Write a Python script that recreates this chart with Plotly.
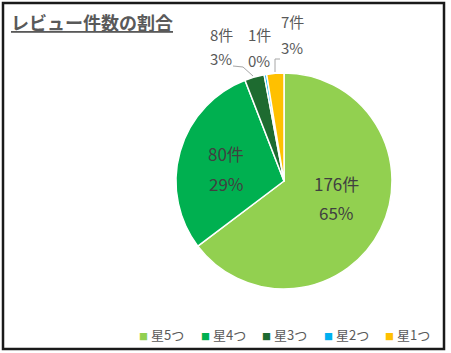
import plotly.graph_objects as go

categories = ["星5つ", "星4つ", "星3つ", "星2つ", "星1つ"]
counts = [176, 80, 8, 1, 7]
colors = ["#92d050", "#00b050", "#1e6b30", "#00b0f0", "#ffc000"]
title_text = "レビュー件数の割合"

W, H = 451, 353
FONT = "Noto Sans CJK JP"

# label block positions (pixels, line1 center / line2 center) and font sizes
label_layout = [
    dict(x=336, y1=183, y2=212, size=17, color="#404040"),
    dict(x=226, y1=153, y2=183, size=17, color="#404040"),
    dict(x=221, y1=34, y2=59, size=15, color="#595959"),
    dict(x=259, y1=35, y2=60, size=15, color="#595959"),
    dict(x=292, y1=22, y2=47, size=15, color="#595959"),
]

def px(x):
    return x / W

def py(y):
    return 1 - y / H

fig = go.Figure()
fig.add_trace(go.Pie(
    labels=categories,
    values=counts,
    sort=False,
    direction="clockwise",
    rotation=0,
    marker=dict(colors=colors, line=dict(color="white", width=1.5)),
    textinfo="none",
    domain=dict(x=[px(176), px(392)], y=[py(289), py(73)]),
    showlegend=False,
    hoverinfo="label+value+percent",
))

total = sum(counts)
annotations = []
for c, lay in zip(counts, label_layout):
    for txt, yy in ((f"{c}件", lay["y1"]), (f"{round(100 * c / total)}%", lay["y2"])):
        annotations.append(dict(
            x=px(lay["x"]), y=py(yy), xref="paper", yref="paper",
            xanchor="center", yanchor="middle", text=txt, showarrow=False,
            font=dict(size=lay["size"], color=lay["color"], family=FONT),
        ))

# custom legend built from categories/colors
leg_x0 = 137
leg_step = 61.5
for i, (cat, col) in enumerate(zip(categories, colors)):
    annotations.append(dict(
        x=px(leg_x0 + i * leg_step), y=py(334),
        xref="paper", yref="paper", xanchor="left", yanchor="middle",
        text=f"<span style='color:{col};font-size:9px'>■</span> {cat}",
        showarrow=False,
        font=dict(size=13, color="#595959", family=FONT),
    ))

annotations.append(dict(
    x=px(9), y=py(22), xref="paper", yref="paper",
    xanchor="left", yanchor="middle",
    text=f"<b><u>{title_text}</u></b>", showarrow=False,
    font=dict(size=18, color="#595959", family=FONT),
))

def path(points):
    return "M " + " L ".join(f"{px(x)},{py(y)}" for x, y in points)

leader = dict(color="#a6a6a6", width=1)
shapes = [
    dict(type="rect", xref="paper", yref="paper",
         x0=px(3), x1=px(444), y0=py(349), y1=py(3),
         line=dict(color="#1a1a1a", width=2.5)),
    dict(type="path", xref="paper", yref="paper",
         path=path([(233, 66), (243, 67), (253, 76)]), line=leader),
    dict(type="path", xref="paper", yref="paper",
         path=path([(280, 59), (275, 59), (275, 72)]), line=leader),
]

fig.update_layout(
    width=W, height=H,
    margin=dict(l=0, r=0, t=0, b=0),
    paper_bgcolor="white",
    plot_bgcolor="white",
    annotations=annotations,
    shapes=shapes,
)

fig.write_html("out.html")
